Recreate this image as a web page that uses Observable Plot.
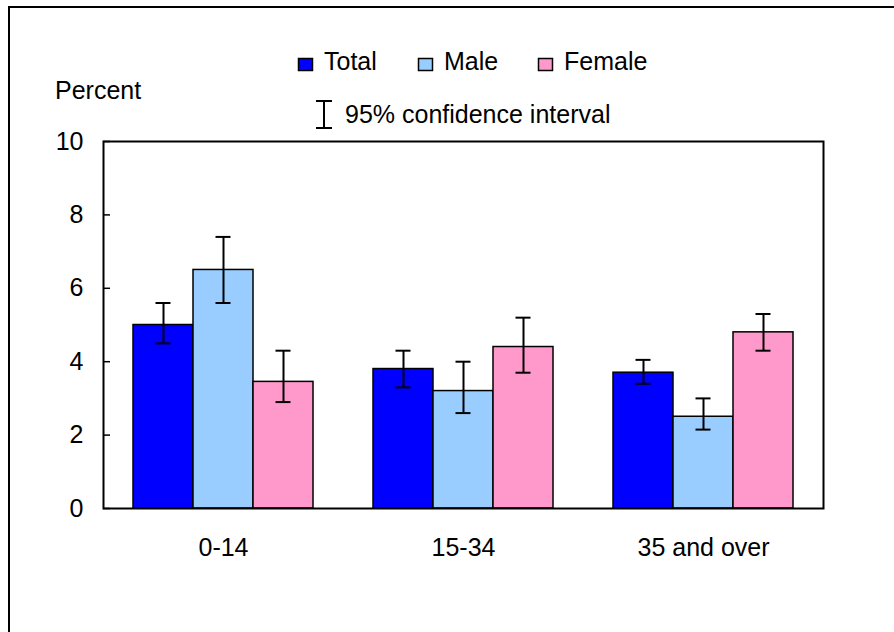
<!DOCTYPE html>
<html><head><meta charset="utf-8">
<script src="https://cdn.jsdelivr.net/npm/d3@7"></script>
<script src="https://cdn.jsdelivr.net/npm/@observablehq/plot@0.6"></script>
<style>
body{margin:0;background:#fff;overflow:hidden;}
#wrap{position:relative;width:894px;height:632px;overflow:hidden;background:#fff;}
#wrap svg{position:absolute;left:0;top:0;}
#border{position:absolute;left:8px;top:6px;width:1000px;height:1000px;border:2px solid #000;pointer-events:none;}
</style></head><body><div id="wrap"></div>
<script>
const groups = ["0-14", "15-34", "35 and over"];
const series = ["Total", "Male", "Female"];
const colors = ["#0000FF", "#99CCFF", "#FF99CC"];
const totalValues = [5.0, 3.8, 3.7];
const totalLow = [4.5, 3.3, 3.4];
const totalHigh = [5.6, 4.3, 4.05];
const maleValues = [6.5, 3.2, 2.5];
const maleLow = [5.6, 2.6, 2.15];
const maleHigh = [7.4, 4.0, 3.0];
const femaleValues = [3.45, 4.4, 4.8];
const femaleLow = [2.9, 3.7, 4.3];
const femaleHigh = [4.3, 5.2, 5.3];
const yTicks = [0, 2, 4, 6, 8, 10];
const yLabel = "Percent";
const ciLabel = "95% confidence interval";

const seriesData = {
  Total: [totalValues, totalLow, totalHigh],
  Male: [maleValues, maleLow, maleHigh],
  Female: [femaleValues, femaleLow, femaleHigh]
};
const rows = [];
groups.forEach((g, i) => {
  series.forEach(s => {
    const [v, lo, hi] = seriesData[s];
    rows.push({group: g, series: s, value: v[i], low: lo[i], high: hi[i]});
  });
});

const font = "'Liberation Sans', Arial, sans-serif";
const chart = Plot.plot({
  width: 894, height: 632,
  marginLeft: 103, marginRight: 71, marginTop: 141, marginBottom: 124,
  style: {fontFamily: font, fontSize: "25px", color: "#000", background: "#fff"},
  fx: {domain: groups, padding: 0, label: null},
  x: {domain: series, paddingInner: 0, paddingOuter: 0.5, axis: null},
  y: {domain: [0, 10], label: null},
  color: {domain: series, range: colors},
  marks: [
    Plot.barY(rows, {fx: "group", x: "series", y: "value", fill: "series", stroke: "#000", strokeWidth: 1.5}),
    Plot.ruleX(rows, {fx: "group", x: "series", y1: "low", y2: "high", stroke: "#000", strokeWidth: 2}),
    Plot.tickY(rows, {fx: "group", x: "series", y: "low", inset: 22.5, stroke: "#000", strokeWidth: 2}),
    Plot.tickY(rows, {fx: "group", x: "series", y: "high", inset: 22.5, stroke: "#000", strokeWidth: 2}),
    Plot.frame({facet: "super", stroke: "#000", strokeWidth: 2}),
    Plot.axisY({ticks: yTicks, anchor: "left", tickSize: -7, tickPadding: 27, fontSize: 25, strokeWidth: 1.5, label: null}),
    Plot.axisFx({anchor: "bottom", tickSize: 0, tickPadding: 30, fontSize: 25, label: null})
  ]
});
const wrap = document.getElementById("wrap");
wrap.appendChild(chart);

// legend overlay
const svg = d3.select(wrap).append("svg")
  .attr("width", 894).attr("height", 632)
  .style("pointer-events", "none")
  .style("font-family", font).style("font-size", "25px");
const legendX = [298.5, 418.5, 538.5];
series.forEach((s, i) => {
  svg.append("rect").attr("x", legendX[i]).attr("y", 58.5).attr("width", 14).attr("height", 12)
    .attr("fill", colors[i]).attr("stroke", "#000").attr("stroke-width", 1.5);
  svg.append("text").attr("x", legendX[i] + 25.5).attr("y", 70).text(s);
});
svg.append("line").attr("x1", 324).attr("x2", 324).attr("y1", 101).attr("y2", 128).attr("stroke", "#000").attr("stroke-width", 2);
svg.append("line").attr("x1", 316).attr("x2", 332).attr("y1", 101).attr("y2", 101).attr("stroke", "#000").attr("stroke-width", 2);
svg.append("line").attr("x1", 316).attr("x2", 332).attr("y1", 128).attr("y2", 128).attr("stroke", "#000").attr("stroke-width", 2);
svg.append("text").attr("x", 345).attr("y", 123).text(ciLabel);
svg.append("text").attr("x", 55).attr("y", 99).text(yLabel);

const border = document.createElement("div");
border.id = "border";
wrap.appendChild(border);
</script></body></html>
